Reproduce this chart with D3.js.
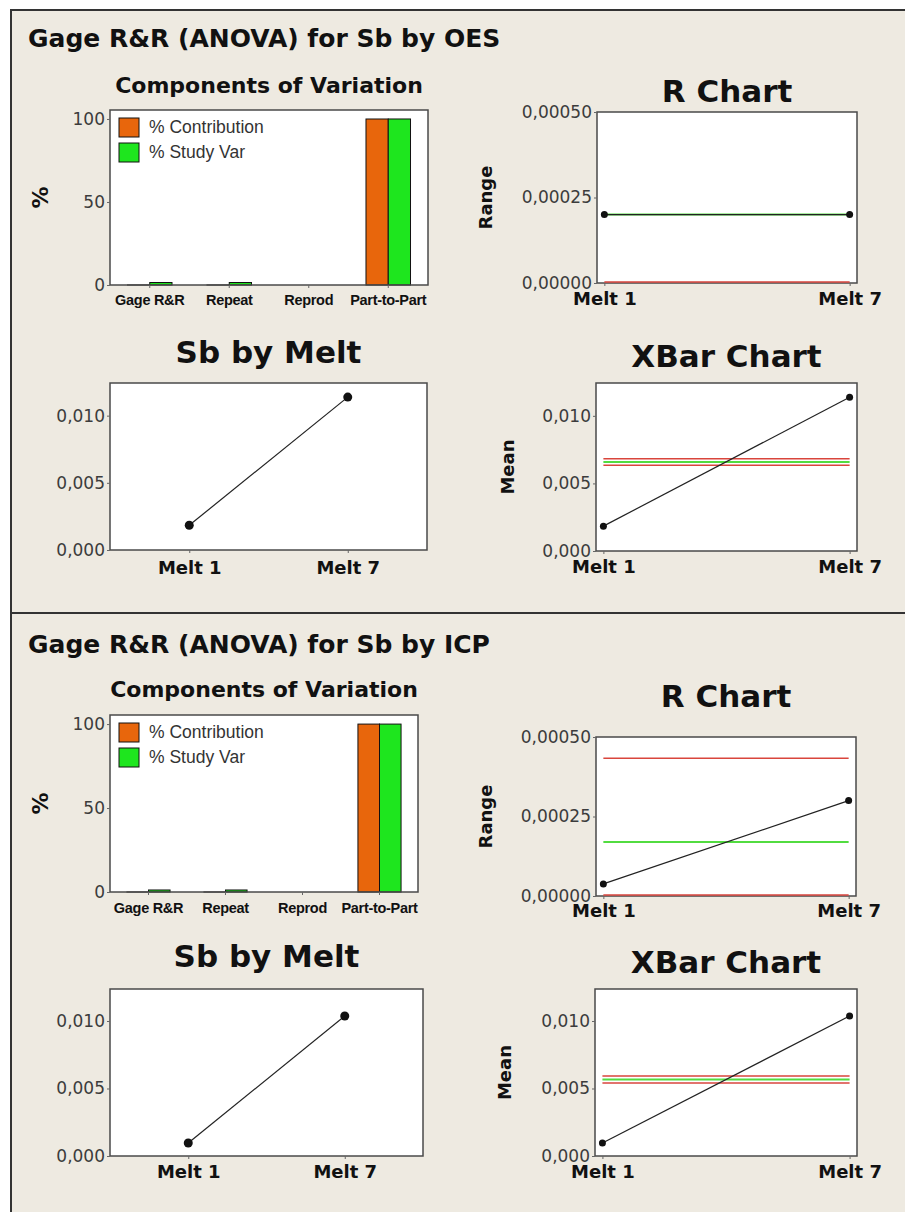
<!DOCTYPE html>
<html>
<head>
    <meta charset="utf-8">
    <title>Gage R&amp;R (ANOVA) for Sb</title>
    <script src="https://d3js.org/d3.v7.min.js"></script>
    <style>
        body { margin: 0; background: #fff; }
        svg text { font-family: "DejaVu Sans", Verdana, sans-serif; }
    </style>
</head>
<body>
<script>
    // ---- data ----
    var compCategories = ["Gage R&R", "Repeat", "Reprod", "Part-to-Part"];
    var compSeries = ["% Contribution", "% Study Var"];
    var oesContribution = [0.02, 0.02, 0, 99.98];
    var oesStudyVar = [1.5, 1.5, 0, 99.99];
    var icpContribution = [0.01, 0.01, 0, 99.99];
    var icpStudyVar = [1.2, 1.2, 0, 99.99];

    var melts = ["Melt 1", "Melt 7"];
    var oesMeans = [0.00184, 0.01138];
    var icpMeans = [0.00096, 0.01037];
    var oesRanges = [0.0002, 0.0002];
    var icpRanges = [0.000038, 0.0003];

    // control limits: [LCL, center, UCL]
    var oesRLimits = [0, 0.0002, 0.00065];
    var icpRLimits = [0, 0.00017, 0.000433];
    var oesXbarLimits = [0.00635, 0.00659, 0.00683];
    var icpXbarLimits = [0.0054, 0.00567, 0.00593];

    var percentTicks = [0, 50, 100];
    var rangeTicks = [0, 0.00025, 0.0005];
    var meanTicks = [0, 0.005, 0.010];

    var orange = "#e8660c", green = "#1ee61e";
    var red = "#d9453c", lgreen = "#52dc40";

    var loc = d3.formatLocale({decimal: ",", thousands: ".", grouping: [3], currency: ["", ""]});
    var fmtPct = loc.format("d"), fmtRange = loc.format(".5f"), fmtMean = loc.format(".3f");

    var svg = d3.select("body").append("svg")
        .attr("width", 905)
        .attr("height", 1212);

    // beige worksheet background + frame lines
    svg.append("rect").attr("x", 11).attr("y", 10).attr("width", 894).attr("height", 1202).attr("fill", "#eeeae1");
    svg.append("line").attr("x1", 11).attr("x2", 11).attr("y1", 9).attr("y2", 1212).attr("stroke", "#333").attr("stroke-width", 2);
    svg.append("line").attr("x1", 10).attr("x2", 905).attr("y1", 10).attr("y2", 10).attr("stroke", "#333").attr("stroke-width", 2);
    svg.append("line").attr("x1", 11).attr("x2", 905).attr("y1", 613).attr("y2", 613).attr("stroke", "#333").attr("stroke-width", 2);

    function title(txt, x, y, size, anchor) {
        svg.append("text")
            .attr("x", x).attr("y", y)
            .attr("text-anchor", anchor || "middle")
            .style("font-weight", "bold")
            .style("font-size", size + "px")
            .attr("fill", "#111")
            .text(txt);
    }

    function frame(b) {
        svg.append("rect")
            .attr("x", b.x0).attr("y", b.y0)
            .attr("width", b.x1 - b.x0).attr("height", b.y1 - b.y0)
            .attr("fill", "#fff");
    }

    function frameBorder(b) {
        svg.append("rect")
            .attr("x", b.x0).attr("y", b.y0)
            .attr("width", b.x1 - b.x0).attr("height", b.y1 - b.y0)
            .attr("fill", "none")
            .attr("stroke", "#4a4a4a")
            .attr("stroke-width", 1.5);
    }

    function yAxis(b, y, ticks, fmt, label) {
        var g = svg.append("g")
            .attr("transform", "translate(" + b.x0 + ",0)")
            .call(d3.axisLeft(y).tickValues(ticks).tickFormat(fmt).tickSize(3).tickPadding(2));
        g.select(".domain").remove();
        g.selectAll("line").attr("stroke", "#666");
        g.selectAll("text").style("font-size", "17px").attr("fill", "#3c3c3c");
        if (label) {
            svg.append("text")
                .attr("transform", "translate(" + b.lx + "," + ((b.y0 + b.y1) / 2) + ") rotate(-90)")
                .attr("text-anchor", "middle")
                .attr("dy", "0.36em")
                .style("font-weight", "bold")
                .style("font-size", label == "%" ? "22px" : "18px")
                .attr("fill", "#111")
                .text(label);
        }
    }

    function xAxis(b, x, fontCss) {
        var g = svg.append("g")
            .attr("transform", "translate(0," + b.y1 + ")")
            .call(d3.axisBottom(x).tickSize(3).tickPadding(b.pad));
        g.select(".domain").remove();
        g.selectAll("line").attr("stroke", "#666");
        g.selectAll("text").attr("style", fontCss).attr("fill", "#111");
    }

    // ---- Components of Variation ----
    function compChart(b, contrib, studyVar) {
        frame(b);
        var x = d3.scaleBand().domain(compCategories).range([b.x0, b.x1]);
        var y = d3.scaleLinear().domain([0, 105.4]).range([b.y1, b.y0]);
        var bw = x.bandwidth() * 0.28;
        var xs = d3.scaleBand().domain(compSeries).range([-bw, bw]);
        var rows = compCategories.map(function(c, i) {
            return [{cat: c, s: compSeries[0], v: contrib[i], c: orange},
                    {cat: c, s: compSeries[1], v: studyVar[i], c: green}];
        });
        svg.append("g").selectAll("rect")
            .data(d3.merge(rows).filter(function(d) { return d.v > 0; }))
            .enter().append("rect")
            .attr("x", function(d) { return x(d.cat) + x.bandwidth() / 2 + xs(d.s); })
            .attr("width", xs.bandwidth())
            .attr("y", function(d) { return y(d.v); })
            .attr("height", function(d) { return y(0) - y(d.v); })
            .attr("fill", function(d) { return d.c; })
            .attr("stroke", "#111")
            .attr("stroke-width", 1);

        // legend
        var lg = svg.append("g").attr("transform", "translate(" + (b.x0 + 9) + "," + (b.y0 + 8) + ")");
        compSeries.forEach(function(s, i) {
            lg.append("rect").attr("x", 0).attr("y", i * 25).attr("width", 20).attr("height", 19)
                .attr("fill", i == 0 ? orange : green).attr("stroke", "#111");
            lg.append("text").attr("x", 30).attr("y", i * 25 + 15)
                .style("font-family", "'Liberation Sans', Arial, sans-serif")
                .style("font-size", "17.5px").attr("fill", "#333").text(s);
        });

        frameBorder(b);
        yAxis(b, y, percentTicks, fmtPct, "%");
        xAxis(b, x, "font-family:'Liberation Sans Narrow','Arial Narrow','Liberation Sans',sans-serif;font-stretch:condensed;font-weight:bold;font-size:14.5px;letter-spacing:-0.3px");
        title("Components of Variation", (b.x0 + b.x1) / 2, b.ty, 22);
    }

    // ---- line charts (R chart, XBar chart, Sb by Melt) ----
    function lineChart(b, values, opts) {
        frame(b);
        var x = d3.scalePoint().domain(melts).range([b.x0, b.x1]).padding(opts.padding);
        var y = d3.scaleLinear().domain([0, opts.max]).range([b.y1, b.y0]);
        frameBorder(b);

        if (opts.limits) {
            opts.limits.forEach(function(v, i) {
                if (v > opts.max) return;
                svg.append("line")
                    .attr("x1", x(melts[0])).attr("x2", x(melts[melts.length - 1]))
                    .attr("y1", y(v) - (v == 0 ? 1 : 0)).attr("y2", y(v) - (v == 0 ? 1 : 0))
                    .attr("stroke", i == 1 ? lgreen : red)
                    .attr("stroke-width", i == 1 ? 2 : 1.5);
            });
        }

        var line = d3.line()
            .x(function(d, i) { return x(melts[i]); })
            .y(function(d) { return y(d); });
        svg.append("path").datum(values)
            .attr("d", line)
            .attr("fill", "none")
            .attr("stroke", "#222")
            .attr("stroke-width", 1.2);
        svg.append("g").selectAll("circle")
            .data(values).enter().append("circle")
            .attr("cx", function(d, i) { return x(melts[i]); })
            .attr("cy", function(d) { return y(d); })
            .attr("r", opts.r)
            .attr("fill", "#111");

        yAxis(b, y, opts.ticks, opts.fmt, opts.label);
        xAxis(b, x, "font-weight:bold;font-size:18px");
        title(opts.title, (b.x0 + b.x1) / 2, b.ty, 31);
    }

    function panel(p) {
        title(p.name, 28, p.titleY, 25, "start");
        compChart(p.comp, p.contrib, p.studyVar);
        lineChart(p.r, p.ranges, {title: "R Chart", max: 0.0005, ticks: rangeTicks, fmt: fmtRange,
            label: "Range", limits: p.rLimits, padding: 0.03, r: 3.5});
        lineChart(p.melt, p.means, {title: "Sb by Melt", max: p.meanMax, ticks: meanTicks, fmt: fmtMean,
            padding: 0.5, r: 4.5});
        lineChart(p.xbar, p.means, {title: "XBar Chart", max: p.meanMax, ticks: meanTicks, fmt: fmtMean,
            label: "Mean", limits: p.xbarLimits, padding: 0.03, r: 3.5});
    }

    panel({
        name: "Gage R&R (ANOVA) for Sb by OES", titleY: 47,
        contrib: oesContribution, studyVar: oesStudyVar,
        ranges: oesRanges, rLimits: oesRLimits,
        means: oesMeans, xbarLimits: oesXbarLimits, meanMax: 0.01243,
        comp: {x0: 110, x1: 428, y0: 110, y1: 285, ty: 93, lx: 40, pad: 7},
        r: {x0: 597, x1: 857, y0: 112, y1: 283, ty: 102, lx: 486, pad: 6},
        melt: {x0: 110, x1: 427, y0: 383, y1: 550, ty: 363, pad: 8},
        xbar: {x0: 596, x1: 857, y0: 383, y1: 551, ty: 367, lx: 508, pad: 6}
    });

    panel({
        name: "Gage R&R (ANOVA) for Sb by ICP", titleY: 653,
        contrib: icpContribution, studyVar: icpStudyVar,
        ranges: icpRanges, rLimits: icpRLimits,
        means: icpMeans, xbarLimits: icpXbarLimits, meanMax: 0.01237,
        comp: {x0: 110, x1: 418, y0: 715, y1: 892, ty: 697, lx: 40, pad: 8},
        r: {x0: 596, x1: 856, y0: 737, y1: 896, ty: 707, lx: 486, pad: 5},
        melt: {x0: 110, x1: 423, y0: 989, y1: 1156, ty: 967, pad: 6},
        xbar: {x0: 595, x1: 857, y0: 989, y1: 1156, ty: 973, lx: 505, pad: 6}
    });
</script>
</body>
</html>
